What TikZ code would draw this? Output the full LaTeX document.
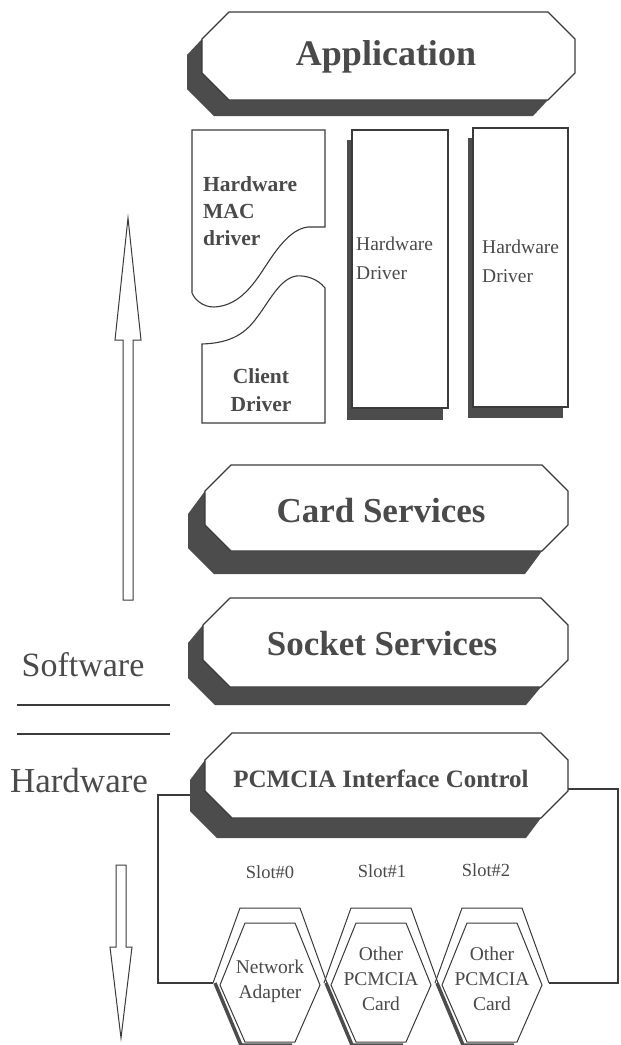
\documentclass[tikz,border=0pt]{standalone}
\usepackage{fontspec}
\setmainfont{Liberation Serif}
\definecolor{ink}{HTML}{3A3A3A}
\definecolor{shadowgrey}{HTML}{4C4C4C}
\definecolor{txt}{HTML}{4A4A4A}
\newcommand\myfs[2]{\fontsize{#1}{#2}\selectfont}
% L R T B c dx dy
\newcommand\octbox[7]{%
  \fill[shadowgrey] (#1,#3+#5) -- (#1-#6,#3+#5+#7) -- (#1-#6,#4-#5+#7) -- (#1+#5-#6,#4+#7)
     -- (#2-#5-#6,#4+#7) -- (#2-#5,#4) -- cycle;
  \draw[ink,fill=white,line width=1.1pt] (#1+#5,#3) -- (#2-#5,#3) -- (#2,#3+#5) -- (#2,#4-#5)
     -- (#2-#5,#4) -- (#1+#5,#4) -- (#1,#4-#5) -- (#1,#3+#5) -- cycle;}
% card: cx
\newcommand\pccard[1]{%
  \draw[ink,line width=1pt] (#1-57,983) -- (#1-30,908) -- (#1+30,908) -- (#1+57,983);
  \draw[ink,fill=white,line width=1pt] (#1-25,923) -- (#1+25,923) -- (#1+50,985) -- (#1+25,1042)
     -- (#1-25,1042) -- (#1-50,985) -- cycle;
  \draw[shadowgrey,line width=3.5pt] (#1-55,983) -- (#1-29,1045) -- (#1+22,1045);}
\begin{document}
\begin{tikzpicture}[x=1pt,y=-1pt,
  bigtxt/.style={text=txt,font=\bfseries\myfs{35}{40},inner sep=0pt},
  drvtxt/.style={text=txt,font=\myfs{19.5}{29},align=left,inner sep=0pt,anchor=west},
  cardtxt/.style={text=txt,font=\myfs{19.5}{25},align=center,inner sep=0pt},
  slottxt/.style={text=txt,font=\myfs{18.5}{22},inner sep=0pt},
  sidetxt/.style={text=txt,font=\myfs{35}{40},inner sep=0pt}]
\useasboundingbox (0,0) rectangle (621,1045);
\clip (0,0) rectangle (621,1045);

% layered boxes
\octbox{202}{575}{12}{100}{27}{15}{16}
\node[bigtxt,font=\bfseries\myfs{36}{40}] (app) at (386,57) {Application};

\octbox{205}{568}{465}{551}{26}{17}{23}
\node[bigtxt] (cs) at (381,511) {Card Services};

\octbox{203}{568}{598}{687}{27}{15}{18}
\node[bigtxt] (ss) at (382,644) {Socket Services};

\octbox{205}{568}{733}{818}{27}{15}{20}
\node[bigtxt,font=\bfseries\myfs{25}{30}] (pic) at (381,779) {PCMCIA Interface Control};

% driver column
\draw[ink,fill=white,line width=1.1pt] (192,130) -- (325,130) -- (325,227) -- (308,227)
  .. controls (290,229) and (276,250) .. (263,270)
  .. controls (250,290) and (236,306) .. (214,307)
  .. controls (203,307) and (195,300) .. (192,293) -- cycle;
\draw[ink,fill=white,line width=1.1pt] (202,423) -- (325,423) -- (325,288)
  .. controls (318,279) and (306,275) .. (296,276)
  .. controls (280,279) and (270,300) .. (258,316)
  .. controls (246,333) and (232,343) .. (202,344) -- cycle;
\node[text=txt,font=\bfseries\myfs{21.5}{27},align=left,inner sep=0pt,anchor=west] (mac) at (203,211) {Hardware\\MAC\\driver};
\node[text=txt,font=\bfseries\myfs{21.5}{28},align=center,inner sep=0pt] (cli) at (261,390) {Client\\Driver};

\fill[shadowgrey] (347,140) rectangle (443,420);
\draw[ink,fill=white,line width=1.1pt] (352,130) rectangle (448,408);
\node[drvtxt] (hd1) at (356,258) {Hardware\\Driver};
\fill[shadowgrey] (468,138) rectangle (563,418);
\draw[ink,fill=white,line width=1.1pt] (473,128) rectangle (568,407);
\node[drvtxt] (hd2) at (482,261) {Hardware\\Driver};

% up arrow
\draw[ink,line width=1pt,line join=miter] (128,218) -- (141,340) -- (133,340) -- (133,600)
  -- (123,600) -- (123,340) -- (115,340) -- cycle;

% software / hardware
\node[sidetxt,font=\myfs{34}{40}] (sw) at (83,665) {Software};
\draw[ink,line width=1.1pt] (17,705) -- (170,705);
\draw[ink,line width=1.1pt] (17,734) -- (170,734);
\node[sidetxt] (hw) at (79,781) {Hardware};

% down arrow
\draw[ink,line width=1pt,line join=miter] (116,865) -- (126,865) -- (126,947) -- (132,947)
  -- (121,1038) -- (110,947) -- (116,947) -- cycle;

% slots
\node[slottxt] (s0) at (270,872) {Slot\#0};
\node[slottxt] (s1) at (382,871) {Slot\#1};
\node[slottxt] (s2) at (486,870) {Slot\#2};

\pccard{270}
\pccard{381}
\pccard{492}
\node[cardtxt] (na) at (270,981) {Network\\Adapter};
\node[cardtxt] (oc1) at (381,979) {Other\\PCMCIA\\Card};
\node[cardtxt] (oc2) at (492,979) {Other\\PCMCIA\\Card};

% connectors
\coordinate (pcL) at (190,795);
\coordinate (pcR) at (568,789);
\coordinate (c0L) at (213,983);
\coordinate (c2R) at (549,983);
\draw[ink,line width=1.1pt] (pcL) -- +(-32,0) |- (c0L);
\draw[ink,line width=1.1pt] (pcR) -- +(50,0) |- (c2R);
\end{tikzpicture}
\end{document}
